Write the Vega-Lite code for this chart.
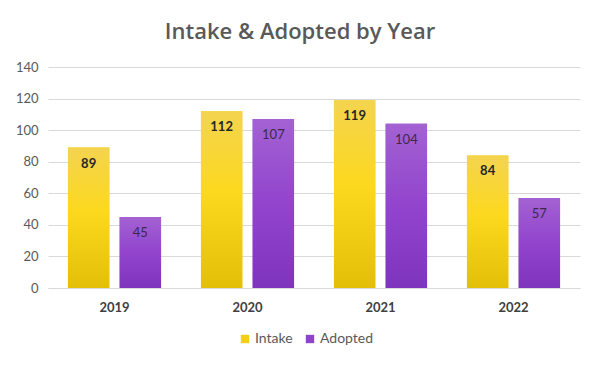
{
  "$schema": "https://vega.github.io/schema/vega-lite/v6.json",
  "width": 532,
  "height": 221,
  "autosize": {"type": "none"},
  "padding": {"left": 48, "top": 67, "right": 20, "bottom": 77},
  "background": "white",
  "title": {
    "text": "Intake & Adopted by Year",
    "font": "Open Sans",
    "fontSize": 22,
    "fontWeight": 600,
    "color": "#595959",
    "anchor": "middle",
    "dx": -14,
    "offset": 17
  },
  "data": {
    "values": [
      {"year": "2019", "series": "Intake", "value": 89},
      {"year": "2019", "series": "Adopted", "value": 45},
      {"year": "2020", "series": "Intake", "value": 112},
      {"year": "2020", "series": "Adopted", "value": 107},
      {"year": "2021", "series": "Intake", "value": 119},
      {"year": "2021", "series": "Adopted", "value": 104},
      {"year": "2022", "series": "Intake", "value": 84},
      {"year": "2022", "series": "Adopted", "value": 57}
    ]
  },
  "encoding": {
    "x": {
      "field": "year", "type": "nominal", "title": null,
      "scale": {"paddingInner": 0.3, "paddingOuter": 0.15},
      "axis": {"labelAngle": 0, "labelFont": "Lato", "labelFontSize": 13, "labelFontWeight": "bold", "labelColor": "#404040", "ticks": false, "domain": true, "domainColor": "#D9D9D9", "labelPadding": 13}
    },
    "xOffset": {"field": "series", "type": "nominal", "scale": {"domain": ["Intake", "Adopted"], "paddingInner": 0.2, "paddingOuter": 0}},
    "y": {
      "field": "value", "type": "quantitative", "title": null,
      "scale": {"domain": [0, 140]},
      "axis": {"values": [0, 20, 40, 60, 80, 100, 120, 140], "labelFont": "Lato", "labelFontSize": 13, "labelColor": "#595959", "ticks": false, "domain": false, "gridColor": "#D9D9D9", "labelPadding": 10}
    }
  },
  "layer": [
    {
      "mark": {"type": "bar"},
      "encoding": {
        "color": {
          "field": "series", "type": "nominal",
          "scale": {"domain": ["Intake", "Adopted"], "range": ["#F5CF12", "#8E44C8"]},
          "legend": {"title": null, "orient": "none", "legendX": 190, "legendY": 265, "direction": "horizontal", "symbolType": "square", "symbolSize": 70, "labelFont": "Lato", "labelFontSize": 14, "labelColor": "#595959", "columnPadding": 10, "labelOffset": 3}
        }
      }
    },
    {
      "transform": [{"filter": "datum.series === 'Intake'"}],
      "mark": {"type": "bar", "fill": {"gradient": "linear", "x1": 0, "y1": 0, "x2": 0, "y2": 1, "stops": [{"offset": 0, "color": "#F4D450"}, {"offset": 0.45, "color": "#FCD81E"}, {"offset": 1, "color": "#E4BF08"}]}},
      "encoding": {}
    },
    {
      "transform": [{"filter": "datum.series === 'Adopted'"}],
      "mark": {"type": "bar", "fill": {"gradient": "linear", "x1": 0, "y1": 0, "x2": 0, "y2": 1, "stops": [{"offset": 0, "color": "#A362D3"}, {"offset": 0.5, "color": "#9244CD"}, {"offset": 1, "color": "#7F34BD"}]}},
      "encoding": {}
    },
    {
      "transform": [{"filter": "datum.series === 'Intake'"}],
      "mark": {"type": "text", "baseline": "middle", "dy": 16, "font": "Lato", "fontSize": 13, "fontWeight": "bold", "color": "#262626"},
      "encoding": {"text": {"field": "value", "type": "quantitative"}}
    },
    {
      "transform": [{"filter": "datum.series === 'Adopted'"}],
      "mark": {"type": "text", "baseline": "middle", "dy": 16, "font": "Lato", "fontSize": 13, "color": "#3A2A4A"},
      "encoding": {"text": {"field": "value", "type": "quantitative"}}
    }
  ],
  "config": {"view": {"stroke": null}}
}
